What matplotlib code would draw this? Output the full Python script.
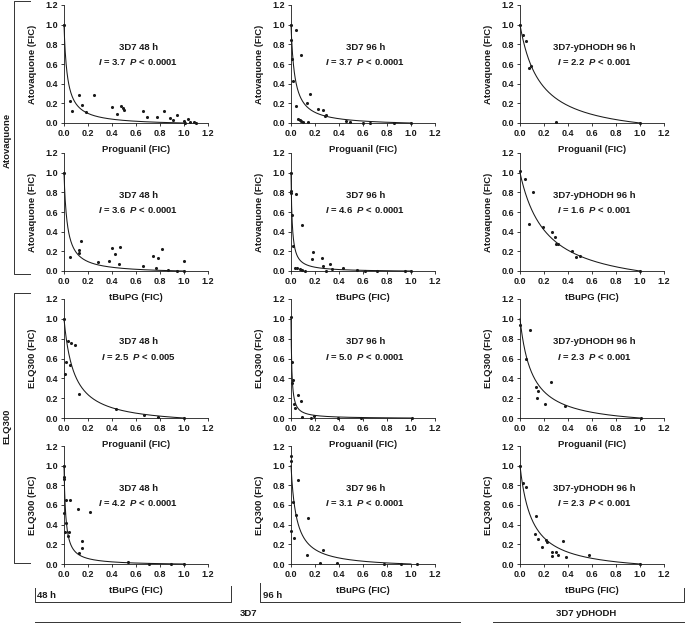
import numpy as np
import matplotlib
matplotlib.use('Agg')
import matplotlib.pyplot as plt

plt.rcParams['font.family'] = ['Liberation Sans', 'DejaVu Sans']
plt.rcParams['font.weight'] = 'bold'
plt.rcParams['axes.labelweight'] = 'bold'
plt.rcParams['mathtext.fontset'] = 'custom'
plt.rcParams['mathtext.it'] = 'Liberation Sans:italic:bold'
plt.rcParams['mathtext.rm'] = 'Liberation Sans:bold'

# panel labels
titles = ['3D7 48 h', '3D7 96 h', '3D7-yDHODH 96 h']
y_names = ['Atovaquone (FIC)', 'Atovaquone (FIC)', 'ELQ300 (FIC)', 'ELQ300 (FIC)']
x_names = ['Proguanil (FIC)', 'tBuPG (FIC)', 'Proguanil (FIC)', 'tBuPG (FIC)']

# interaction index and p-value for each panel (row = drug pair, col = strain)
i_values = [[3.7, 3.7, 2.2],
            [3.6, 4.6, 1.6],
            [2.5, 5.0, 2.3],
            [4.2, 3.1, 2.3]]
p_values = [['< 0.0001', '< 0.0001', '< 0.001'],
            ['< 0.0001', '< 0.0001', '< 0.001'],
            ['< 0.005', '< 0.0001', '< 0.001'],
            ['< 0.0001', '< 0.0001', '< 0.001']]
# steepness of the fitted isobole
curve_k = [[36, 32, 6],
           [37, 99, 4.6],
           [12, 148, 10],
           [67, 22, 10]]

# Atovaquone + proguanil
ato_prog_48_x = [0, 0.05, 0.07, 0.125, 0.147, 0.18, 0.25, 0.40, 0.44, 0.475, 0.49, 0.50, 0.655, 0.69,
                 0.775, 0.835, 0.88, 0.905, 0.94, 1.0, 1.01, 1.03, 1.05, 1.08, 1.1]
ato_prog_48_y = [1.0, 0.22, 0.12, 0.28, 0.18, 0.115, 0.28, 0.16, 0.09, 0.175, 0.155, 0.13, 0.125, 0.057,
                 0.06, 0.125, 0.05, 0.027, 0.085, 0.017, 0.0, 0.045, 0.01, 0.01, 0.0]
ato_prog_96_x = [0, 0, 0.005, 0.04, 0.02, 0.04, 0.08, 0.06, 0.075, 0.083, 0.097, 0.136, 0.158, 0.14,
                 0.228, 0.264, 0.29, 0.286, 0.46, 0.49, 0.6, 0.66, 0.86, 1.0]
ato_prog_96_y = [1.0, 0.84, 0.65, 0.95, 0.43, 0.17, 0.69, 0.045, 0.035, 0.025, 0.01, 0.20, 0.30, 0.007,
                 0.14, 0.13, 0.085, 0.07, 0.017, 0.007, 0.0, 0.0, 0.0, 0.0]
ato_prog_yd_x = [0, 0.028, 0.047, 0.078, 0.094, 0.296, 1.0]
ato_prog_yd_y = [1.0, 0.895, 0.83, 0.56, 0.575, 0.013, 0.0]

# Atovaquone + tBuPG
ato_tbu_48_x = [0, 0.05, 0.127, 0.14, 0.122, 0.28, 0.375, 0.40, 0.425, 0.46, 0.47, 0.655, 0.745, 0.77,
                0.785, 0.82, 0.87, 0.945, 1.0, 1.0]
ato_tbu_48_y = [1.0, 0.14, 0.215, 0.31, 0.18, 0.09, 0.10, 0.235, 0.17, 0.07, 0.245, 0.047, 0.155, 0.03,
                0.135, 0.225, 0.01, 0.0, 0.105, 0.0]
ato_tbu_96_x = [0, 0, 0, 0.01, 0.04, 0.09, 0.02, 0.036, 0.047, 0.075, 0.09, 0.117, 0.18, 0.178, 0.26,
                0.27, 0.325, 0.29, 0.345, 0.435, 0.55, 0.615, 0.72, 0.95, 1.0]
ato_tbu_96_y = [1.0, 0.81, 0.79, 0.565, 0.78, 0.47, 0.255, 0.027, 0.034, 0.017, 0.01, 0.003, 0.19, 0.12,
                0.13, 0.05, 0.07, 0.0, 0.017, 0.03, 0.01, 0.0, 0.0, 0.0, 0.0]
ato_tbu_yd_x = [0, 0.04, 0.11, 0.072, 0.19, 0.27, 0.29, 0.30, 0.32, 0.43, 0.47, 0.50, 1.0]
ato_tbu_yd_y = [1.015, 0.94, 0.80, 0.475, 0.45, 0.40, 0.35, 0.27, 0.27, 0.205, 0.145, 0.155, 0.0]

# ELQ300 + proguanil
elq_prog_48_x = [0, 0.014, 0.01, 0.03, 0.055, 0.095, 0.05, 0.128, 0.43, 0.67, 0.78, 1.0]
elq_prog_48_y = [1.0, 0.56, 0.44, 0.78, 0.755, 0.74, 0.53, 0.247, 0.088, 0.027, 0.01, 0.0]
elq_prog_96_x = [0, 0.005, 0.008, 0.02, 0.025, 0.03, 0.06, 0.08, 0.09, 0.165, 0.195, 0.395, 0.585, 1.01]
elq_prog_96_y = [1.02, 0.56, 0.35, 0.38, 0.145, 0.105, 0.23, 0.17, 0.01, 0.003, 0.02, 0.0, 0.0, 0.0]
elq_prog_yd_x = [0, 0.083, 0.05, 0.133, 0.147, 0.14, 0.21, 0.255, 0.377, 1.01]
elq_prog_yd_y = [0.94, 0.89, 0.59, 0.31, 0.27, 0.205, 0.14, 0.365, 0.125, 0.0]

# ELQ300 + tBuPG
elq_tbu_48_x = [0, 0.003, 0.003, 0.003, 0.01, 0.014, 0.02, 0.05, 0.036, 0.044, 0.12, 0.22, 0.147, 0.15,
                0.125, 0.535, 0.71, 0.89, 1.0]
elq_tbu_48_y = [1.0, 0.88, 0.86, 0.52, 0.325, 0.42, 0.65, 0.65, 0.28, 0.325, 0.56, 0.53, 0.23, 0.16,
                0.11, 0.02, 0.0, 0.0, 0.0]
elq_tbu_96_x = [0, 0, 0.02, 0, 0.025, 0.04, 0.06, 0.145, 0.135, 0.24, 0.265, 0.38, 0.775, 0.915, 1.05]
elq_tbu_96_y = [1.05, 1.1, 0.63, 0.34, 0.26, 0.50, 0.85, 0.47, 0.095, 0.01, 0.14, 0.01, 0.0, 0.0, 0.0]
elq_tbu_yd_x = [0, 0.022, 0.053, 0.13, 0.122, 0.147, 0.183, 0.216, 0.227, 0.266, 0.27, 0.30, 0.32, 0.36,
                0.38, 0.575, 1.0]
elq_tbu_yd_y = [1.0, 0.825, 0.785, 0.49, 0.305, 0.25, 0.175, 0.24, 0.225, 0.125, 0.085, 0.12, 0.09, 0.23,
                0.07, 0.095, 0.0]

points = [[(ato_prog_48_x, ato_prog_48_y), (ato_prog_96_x, ato_prog_96_y), (ato_prog_yd_x, ato_prog_yd_y)],
          [(ato_tbu_48_x, ato_tbu_48_y), (ato_tbu_96_x, ato_tbu_96_y), (ato_tbu_yd_x, ato_tbu_yd_y)],
          [(elq_prog_48_x, elq_prog_48_y), (elq_prog_96_x, elq_prog_96_y), (elq_prog_yd_x, elq_prog_yd_y)],
          [(elq_tbu_48_x, elq_tbu_48_y), (elq_tbu_96_x, elq_tbu_96_y), (elq_tbu_yd_x, elq_tbu_yd_y)]]

W, H = 685, 625
ink = '#1a1a1a'
fig = plt.figure(figsize=(W / 100, H / 100), dpi=100)

# pixel boxes of the panels
col_lr = [(64, 208), (291, 435), (520, 664)]
row_tb = [(5, 123), (153, 271), (299, 418), (446, 564)]

xs = np.linspace(0, 1, 400)
ticks = np.arange(0, 1.21, 0.2)
for r in range(4):
    for c in range(3):
        l, rr = col_lr[c]
        t, b = row_tb[r]
        ax = fig.add_axes([l / W, 1 - b / H, (rr - l) / W, (b - t) / H])
        # fitted isobole
        k = curve_k[r][c]
        ax.plot(xs, (1 - xs) / (1 + k * xs), color=ink, lw=0.75, clip_on=False)
        px, py = points[r][c]
        ax.scatter(px, py, s=5, color=ink, linewidths=0, clip_on=False, zorder=3)
        ax.set_xlim(0, 1.2)
        ax.set_ylim(0, 1.2)
        ax.set_xticks(ticks)
        ax.set_yticks(ticks)
        ax.set_xticklabels(['%.1f' % v for v in ticks], fontweight='bold')
        ax.set_yticklabels(['%.1f' % v for v in ticks], fontweight='bold')
        for s in ['top', 'right']:
            ax.spines[s].set_visible(False)
        for s in ['left', 'bottom']:
            ax.spines[s].set_linewidth(0.6)
            ax.spines[s].set_color(ink)
        ax.tick_params(labelsize=6.5, length=2.2, width=0.6, pad=2, colors=ink)
        ax.set_xlabel(x_names[r], fontsize=6.8, labelpad=5, color=ink, fontweight='bold')
        ax.set_ylabel(y_names[r], fontsize=6.8, labelpad=6, color=ink, fontweight='bold')
        ax.patch.set_alpha(0)
        ax.text(0.62, 0.77, titles[c], ha='center', va='center', fontsize=6.8, color=ink)
        ax.text(0.62, 0.62, r'$I$ = %.1f  $P$ %s' % (i_values[r][c], p_values[r][c]),
                ha='center', va='center', fontsize=6.8, color=ink)

# brackets and group labels in pixel coordinates
ov = fig.add_axes([0, 0, 1, 1], zorder=-1)
ov.set_xlim(0, W)
ov.set_ylim(H, 0)
ov.axis('off')
lk = dict(color='#333333', lw=0.7)

ov.plot([30, 14, 14, 30], [1, 1, 274, 274], **lk)
ov.plot([30, 14, 14, 30], [293, 293, 563, 563], **lk)
ov.text(7, 140, 'Atovaquone', rotation=90, ha='center', va='center', fontsize=6.8, color=ink)
ov.text(7, 426, 'ELQ300', rotation=90, ha='center', va='center', fontsize=6.8, color=ink)

ov.plot([35, 35, 231, 231], [588, 602, 602, 586], **lk)
ov.text(37, 596, '48 h', ha='left', va='center', fontsize=6.8, color=ink)
ov.plot([260, 260, 684, 684], [583, 602, 602, 588], **lk)
ov.text(263, 596, '96 h', ha='left', va='center', fontsize=6.8, color=ink)

ov.plot([35, 460], [622, 622], **lk)
ov.text(248, 613, '3D7', ha='center', va='center', fontsize=6.8, color=ink)
ov.plot([493, 684], [622, 622], **lk)
ov.text(586, 613, '3D7 yDHODH', ha='center', va='center', fontsize=6.8, color=ink)

fig.savefig('out.png', dpi=100)
